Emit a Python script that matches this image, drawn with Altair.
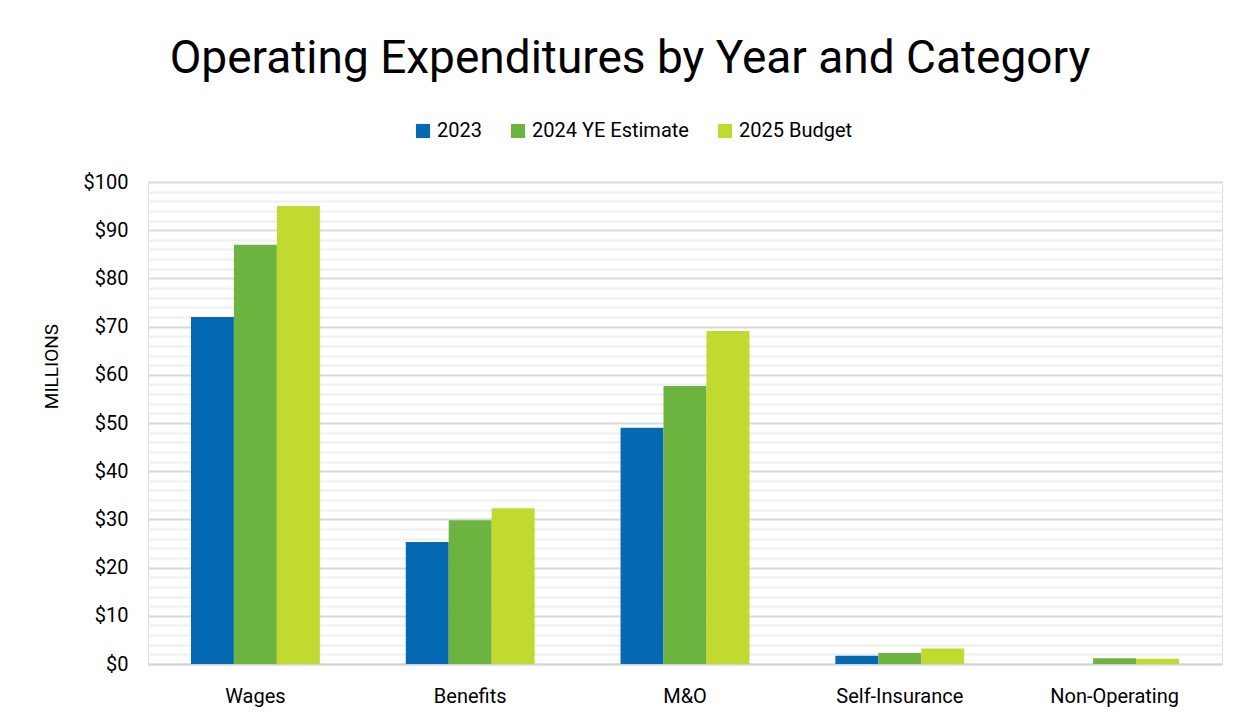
import altair as alt
import pandas as pd

categories = ["Wages", "Benefits", "M&O", "Self-Insurance", "Non-Operating"]
series = ["2023", "2024 YE Estimate", "2025 Budget"]
v2023 = [72.0, 25.3, 49.0, 1.7, 0.0]
v2024 = [87.0, 29.8, 57.7, 2.3, 1.2]
v2025 = [95.0, 32.3, 69.1, 3.2, 1.1]
colors = ["#0569b3", "#6db33f", "#c2d92f"]

rows = []
for s, vals in zip(series, [v2023, v2024, v2025]):
    for c, v in zip(categories, vals):
        rows.append({"Category": c, "Series": s, "Value": v})
df = pd.DataFrame(rows)

FONT = "Roboto, sans-serif"

chart = alt.Chart(df).mark_bar().encode(
    x=alt.X("Category:N", sort=categories, title=None,
            scale=alt.Scale(paddingInner=0.4, paddingOuter=0.2),
            axis=alt.Axis(labelAngle=0, labelFontSize=20, labelColor="#000",
                          labelPadding=22, ticks=False, domainColor="#d4d4d4",
                          domainWidth=2, labelFont=FONT, grid=False)),
    xOffset=alt.XOffset("Series:N", sort=series),
    y=alt.Y("Value:Q", title="MILLIONS",
            scale=alt.Scale(domain=[0, 100], nice=False),
            axis=alt.Axis(values=list(range(0, 101, 2)),
                          labelExpr="datum.value % 10 === 0 ? '$' + datum.value : ''",
                          gridColor={"condition": {"test": "datum.value % 10 === 0", "value": "#d9d9d9"}, "value": "#efefef"},
                          gridWidth=2, domain=False, ticks=False,
                          labelFontSize=20, labelColor="#000", labelPadding=20,
                          labelFont=FONT, titleFont=FONT, titleFontSize=19,
                          titleFontWeight="normal", titleColor="#000", titlePadding=22,
                          titleY=184)),
    color=alt.Color("Series:N", sort=series,
                    scale=alt.Scale(domain=series, range=colors),
                    legend=alt.Legend(title=None, orient="none", direction="horizontal",
                                      legendX=265, legendY=-61, symbolType="square",
                                      symbolSize=200, symbolStrokeWidth=0,
                                      labelFontSize=20, labelFont=FONT, labelColor="#000",
                                      columnPadding=26, symbolOpacity=1)),
).properties(
    width=1074, height=482,
    title=alt.TitleParams("Operating Expenditures by Year and Category", fontSize=46,
                          font=FONT, fontWeight="normal", color="#000",
                          anchor="middle", offset=38, dx=-55),
    autosize=alt.AutoSizeParams(type="none"),
    padding={"left": 140, "top": 174, "right": 18, "bottom": 52},
).configure_view(stroke="transparent", strokeWidth=0).configure(background="white")

chart.save("out.html", embed_options={"renderer": "svg", "actions": False})
